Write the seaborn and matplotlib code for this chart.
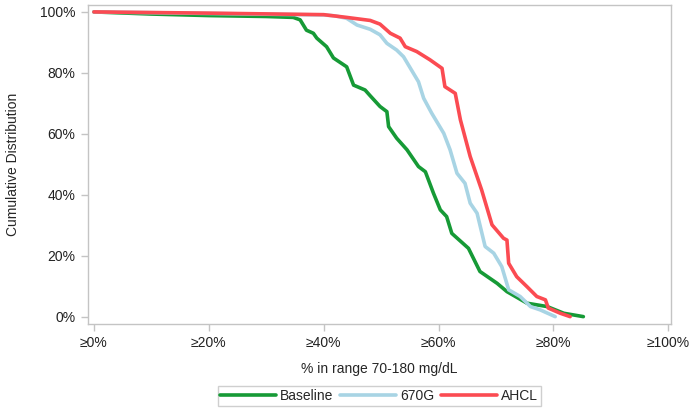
import pandas as pd
import seaborn as sns
from matplotlib import pyplot as plt
from matplotlib.ticker import FixedLocator

# values (x = % time in range, y = cumulative %)
baseline_x = [0, 10, 20, 30, 34.7, 35.9, 37, 38.2, 38.8, 40.5, 41.7, 44, 45.2, 47.2, 48.1, 49.8,
              51, 51.3, 52.7, 54.5, 56.5, 57.7, 59.1, 60.3, 61.4, 62.3, 65.2, 67.2, 70.2, 71.9,
              75.4, 78.9, 81.8, 85.2]
baseline_y = [100, 99.3, 98.8, 98.5, 98.2, 97.4, 94, 93, 91.4, 88.6, 84.9, 82, 76, 74.4, 72.5, 69,
              67.3, 62.4, 58.6, 54.8, 49.3, 47.6, 40.6, 35.1, 32.9, 27.4, 22.5, 14.9, 11, 8.3,
              4.5, 3.4, 1.2, 0.1]

g670_x = [0, 20, 40, 42, 44, 45.8, 48.1, 49.8, 51, 52.7, 53.9, 56.5, 57.4, 58.8, 60.9, 62, 63.2,
          64.6, 65.5, 66.7, 68.1, 69.6, 71, 72.2, 74.2, 76, 77.7, 80.3]
g670_y = [100, 99.5, 99, 98.7, 97.9, 95.7, 94.3, 92.5, 89.7, 87.5, 85.3, 77.1, 71.7, 66.8, 60.2,
          54.8, 47.1, 43.8, 37.3, 34, 23.1, 20.9, 16.5, 8.9, 6.7, 3.4, 2.3, 0.1]

ahcl_x = [0, 20, 40, 44, 48.1, 49.8, 51.6, 53.3, 54.2, 56.2, 58.5, 60.6, 61.1, 62.9, 63.8, 65.5,
          66.7, 67.5, 69.3, 71.3, 71.9, 72.2, 73.6, 75.4, 77.1, 78.6, 79.1, 81.2, 82.9]
ahcl_y = [100, 99.6, 99.1, 98.2, 97.2, 96, 93, 91.4, 88.6, 87, 84.3, 81.5, 75.5, 73.3, 64.6, 52.6,
          46, 41.6, 30.2, 25.8, 25.2, 17.6, 13.2, 9.9, 6.7, 5.6, 2.9, 1.2, 0.1]

groups = ['Baseline', '670G', 'AHCL']
colors = ['#169a36', '#a8d4e4', '#fb4b52']
xticks = [0, 20, 40, 60, 80, 100]
xtick_labels = ['≥0%', '≥20%', '≥40%', '≥60%', '≥80%', '≥100%']
yticks = [0, 20, 40, 60, 80, 100]
ytick_labels = ['0%', '20%', '40%', '60%', '80%', '100%']

df = pd.concat([
    pd.DataFrame({'tir': baseline_x, 'cum': baseline_y, 'group': 'Baseline'}),
    pd.DataFrame({'tir': g670_x, 'cum': g670_y, 'group': '670G'}),
    pd.DataFrame({'tir': ahcl_x, 'cum': ahcl_y, 'group': 'AHCL'}),
], ignore_index=True)

sns.set_style('white')
plt.rcParams['font.family'] = ['Liberation Sans', 'DejaVu Sans']

fig = plt.figure(figsize=(6.92, 4.08), dpi=100)
ax = fig.add_axes([0.127, 0.206, 0.843, 0.782])

sns.lineplot(data=df, x='tir', y='cum', hue='group', hue_order=groups,
             palette=dict(zip(groups, colors)), sort=False, estimator=None,
             linewidth=2.6, ax=ax, legend=False)

ax.set_xlim(-1.05, 100.5)
ax.set_ylim(-2.3, 102.3)
ax.xaxis.set_major_locator(FixedLocator(xticks))
ax.set_xticklabels(xtick_labels, fontsize=10, color='#222222')
ax.yaxis.set_major_locator(FixedLocator(yticks))
ax.set_yticklabels(ytick_labels, fontsize=10, color='#222222')
ax.set_xlabel('% in range 70-180 mg/dL', fontsize=10, labelpad=8)
ax.set_ylabel('Cumulative Distribution', fontsize=10, labelpad=14)

for s in ax.spines.values():
    s.set_color('#c4c4c4')
    s.set_linewidth(1)
ax.tick_params(axis='both', which='major', direction='out', length=5, width=1,
               color='#c4c4c4', pad=4, bottom=True, left=True)

handles = [plt.Line2D([0], [0], color=c, lw=2.6) for c in colors]
leg = fig.legend(handles, groups, loc='lower center', bbox_to_anchor=(0.548, -0.012), ncol=3,
                 fontsize=10, frameon=True, fancybox=False, handlelength=4.0,
                 columnspacing=0.5, handletextpad=0.3, borderpad=0.2)
leg.get_frame().set_edgecolor('#c4c4c4')
leg.get_frame().set_linewidth(1)

plt.savefig('out.png', dpi=100)
plt.close()
